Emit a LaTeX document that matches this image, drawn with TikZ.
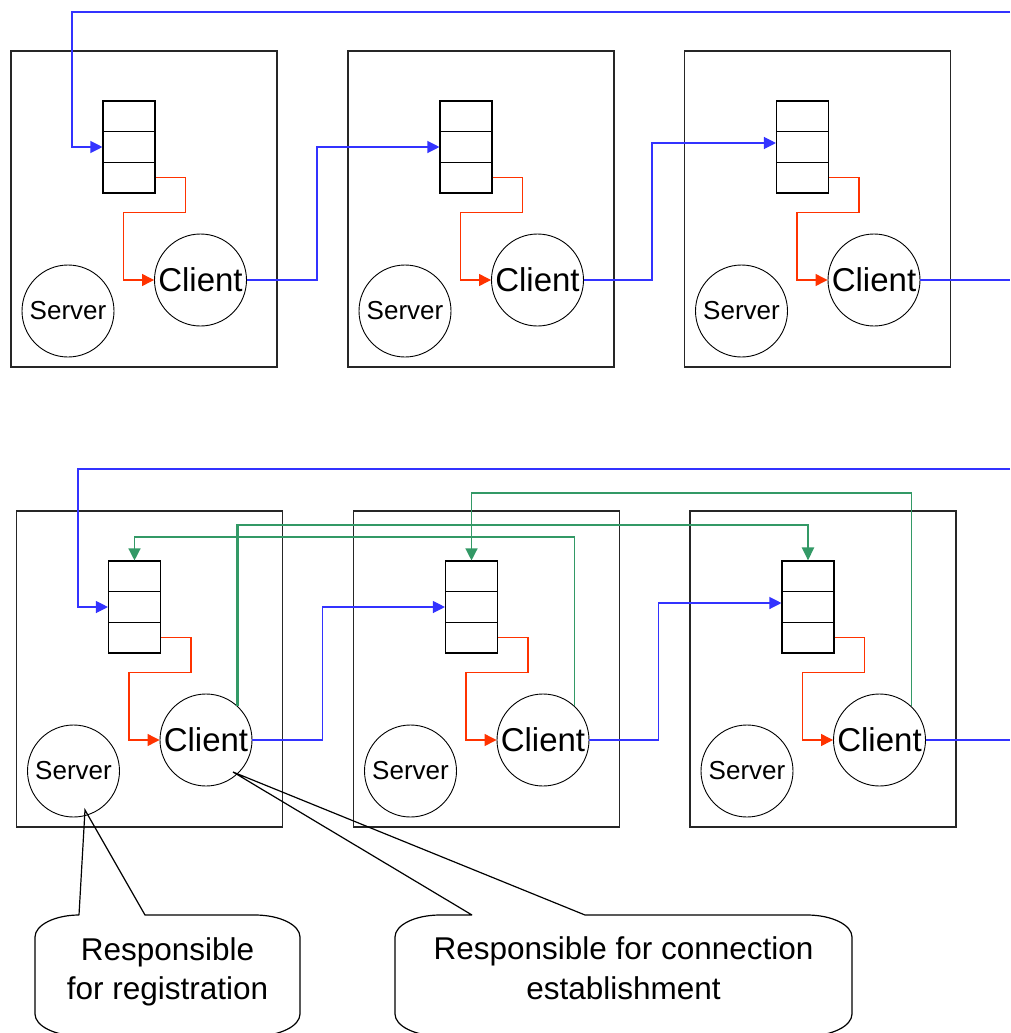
\documentclass[tikz,border=0pt]{standalone}
\usepackage{fontspec}
\setmainfont{Liberation Sans}
\usetikzlibrary{arrows.meta}

\definecolor{flowblue}{RGB}{51,51,255}
\definecolor{flowred}{RGB}{255,51,0}
\definecolor{flowgreen}{RGB}{51,153,102}

\begin{document}
\begin{tikzpicture}[x=1pt,y=-1pt,
  peer/.style={draw=black!85, line width=1.1pt, minimum width=266pt, minimum height=316pt, inner sep=0pt},
  cell/.style={draw, line width=1.1pt, minimum width=52pt, minimum height=30.67pt, inner sep=0pt},
  client/.style={draw, circle, line width=0.9pt, minimum size=92pt, inner sep=0pt,
    font=\fontsize{33}{36}\selectfont},
  server/.style={draw, circle, line width=0.9pt, minimum size=92pt, inner sep=0pt,
    font=\fontsize{26}{30}\selectfont},
  bluelink/.style={draw=flowblue, line width=1.2pt, -{Triangle[length=12pt,width=12pt]}},
  bluewire/.style={draw=flowblue, line width=1.2pt},
  redlink/.style={draw=flowred, line width=1.2pt, -{Triangle[length=12pt,width=12pt]}},
  greenlink/.style={draw=flowgreen, line width=1.3pt, -{Triangle[length=12pt,width=12pt]}},
  greenbold/.style={draw=flowgreen, line width=2.4pt, -{Triangle[length=13pt,width=12pt]}},
  callout/.style={draw, line width=1.2pt},
  callouttext/.style={align=center, font=\fontsize{31.5}{39.5}\selectfont, inner sep=0pt}
]
\clip (0,0) rectangle (1010,1033);

% --- three peers per row: box, queue of three cells, server and client ---
\foreach \r/\dx/\dy in {t/0/0, b/5.5/460}{
  \foreach \i/\px in {1/0, 2/337, 3/673.5}{
    \node[peer]   (\r box\i) at (144+\px+\dx, 209+\dy) {};
    \node[cell]   (\r q\i a) at (129+\px+\dx, 116.33+\dy) {};
    \node[cell]   (\r q\i b) at (129+\px+\dx, 147+\dy) {};
    \node[cell]   (\r q\i c) at (129+\px+\dx, 177.67+\dy) {};
    \node[server] (\r sv\i) at (68+\px+\dx, 311+\dy) {Server};
    \node[client] (\r cl\i) at (200.5+\px+\dx, 280+\dy) {Client};
    % queue hands the request to the local client
    \draw[redlink] (\r q\i c.east) -- ++(30,0) -- ++(0,35) -- ++(-62,0) |- (\r cl\i.west);
  }
}

% --- ring of clients (top row) ---
\coordinate (tin)  at (1010,12);
\coordinate (tout) at (1010,280);
\draw[bluelink] (tin) -- (72,12) |- (tq1b.west);
\draw[bluelink] (tcl1.east) -- ++(70,0) |- (tq2b.west);
\draw[bluelink] (tcl2.east) -- ++(68,0) |- ([yshift=4pt]tq3b.west);
\draw[bluewire] (tcl3.east) -- (tout);

% --- ring of clients (bottom row) ---
\coordinate (bin)  at (1010,469);
\coordinate (bout) at (1010,740);
\draw[bluelink] (bin) -- (78,469) |- (bq1b.west);
\draw[bluelink] (bcl1.east) -- ++(70,0) |- (bq2b.west);
\draw[bluelink] (bcl2.east) -- ++(69,0) |- ([yshift=4pt]bq3b.west);
\draw[bluewire] (bcl3.east) -- (bout);

% --- extra connections between clients and remote queues ---
\draw[greenbold] (bcl1.47) -- ++(0,-181) -| (bq3a.north);
\draw[greenlink] (bcl2.47) -- ++(0,-169) -| (bq1a.north);
\draw[greenlink] (bcl3.47) -- ++(0,-213) -| (bq2a.north);

% --- callouts ---
\coordinate (tipreg) at (85,810);
\coordinate (tipcon) at (233,772);
\draw[callout] (79,915) -- (tipreg) -- (145,915) -- (255,915)
  .. controls (280,915) and (300,925) .. (300,937) -- (300,1014)
  .. controls (300,1026) and (280,1036) .. (255,1036) -- (80,1036)
  .. controls (55,1036) and (35,1026) .. (35,1014) -- (35,937)
  .. controls (35,925) and (55,915) .. (79,915);
\node[callouttext] (reg) at (167.5,972) {Responsible\\for registration};

\draw[callout] (472,915) -- (tipcon) -- (585,915) -- (807,915)
  .. controls (832,915) and (852,925) .. (852,937) -- (852,1014)
  .. controls (852,1026) and (832,1036) .. (807,1036) -- (440,1036)
  .. controls (415,1036) and (395,1026) .. (395,1014) -- (395,937)
  .. controls (395,925) and (415,915) .. (440,915) -- (472,915);
\node[callouttext] (con) at (623.5,968) {Responsible for connection\\establishment};
\end{tikzpicture}
\end{document}
